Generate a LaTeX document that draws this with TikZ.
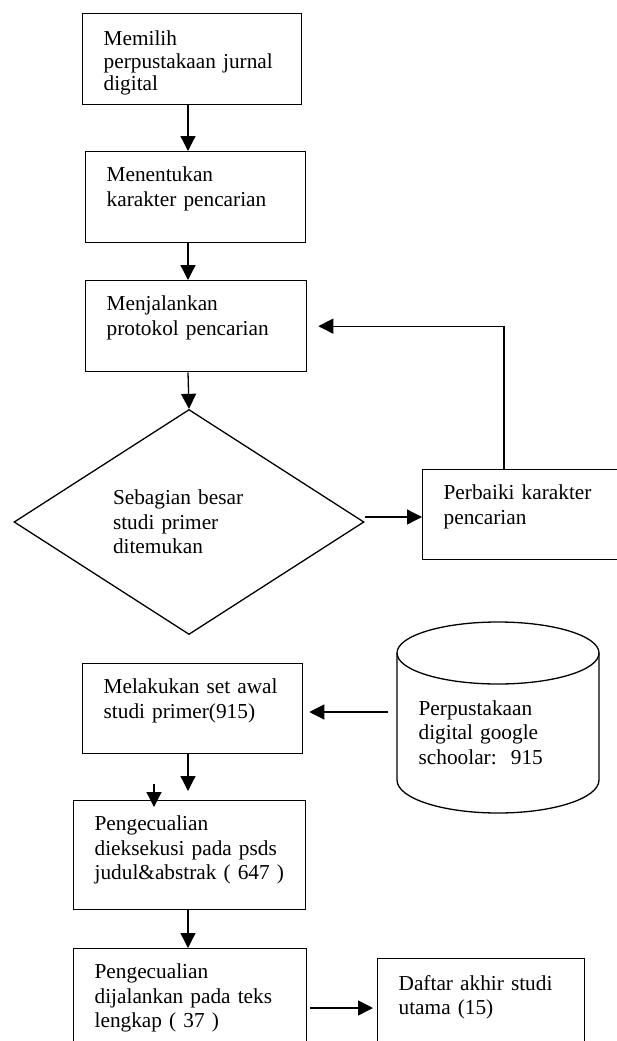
\documentclass[tikz,border=0pt]{standalone}
\usepackage{fontspec}
\setmainfont{Liberation Serif}
\usetikzlibrary{positioning,shapes.geometric,arrows.meta}

\tikzset{
  stepbox/.style={draw, line width=1.3pt, anchor=north west, inner sep=0pt,
    align=left, text height=30pt},
  choicebox/.style={draw, diamond, line width=1.3pt, aspect=1.556,
    minimum width=350pt, minimum height=225pt, align=left, text width=152pt,
    inner sep=4pt},
}
\newcommand{\boxpad}[1]{\leftskip=21pt\relax #1\par}

\begin{document}
\begin{tikzpicture}[x=1pt, y=-1pt, line width=1.3pt,
    >={Triangle[length=15pt,width=15pt]},
    font=\fontsize{21.3}{24.5}\selectfont]
  \useasboundingbox (0,0) rectangle (617,1041);
  %%%%% THE MAIN COLUMN
  \node[stepbox, text width=219pt, text height=32pt, text depth=59pt,
    font=\fontsize{21.3}{22.5}\selectfont] (pilih) at (82,13)
    {\boxpad{Memilih\\perpustakaan jurnal\\digital}};
  \node[stepbox, text width=220pt, text depth=61pt] (karakter) at (85,151)
    {\boxpad{Menentukan\\karakter pencarian}};
  \node[stepbox, text width=221pt, text depth=61pt] (jalankan) at (85,280)
    {\boxpad{Menjalankan\\protokol pencarian}};
  \node[choicebox] (cek) at (189,522) {Sebagian besar\\studi primer\\ditemukan};
  \node[stepbox, text width=210pt, text depth=60pt] (perbaiki) at (422,469)
    {\boxpad{Perbaiki karakter\\pencarian}};
  \node[stepbox, text width=220pt, text depth=60pt] (awal) at (82,663)
    {\boxpad{Melakukan set awal\\studi primer(915)}};
  \node[stepbox, text width=232pt, text depth=79pt] (saring) at (73,800)
    {\boxpad{Pengecualian\\dieksekusi pada psds\\judul\&abstrak ( 647 )}};
  \node[stepbox, text width=233pt, text depth=90pt] (teks) at (73,948)
    {\boxpad{Pengecualian\\dijalankan pada teks\\lengkap ( 37 )}};
  \node[stepbox, text width=207pt, text height=31.5pt, text depth=80pt] (akhir) at (377,958)
    {\boxpad{Daftar akhir studi\\utama (15)}};
  %%%%% THE DATABASE
  \draw (397,653) -- (397,780) arc[start angle=180, end angle=0, x radius=101, y radius=33] -- (599,653);
  \draw (498,653) ellipse [x radius=101, y radius=31];
  \node[align=left, anchor=base west, text width=180pt, inner sep=0pt] (db) at (418,715)
    {Perpustakaan\\digital google\\schoolar:\ \ 915};
  %%%% LINKS
  \coordinate (spine) at (188,0);
  \coordinate (loop) at (504,0);
  \coordinate (dbleft) at (397,712);
  \coordinate (stub) at (154,784);
  \coordinate (row) at (0,1008);
  \draw[->] (pilih.south -| spine) -- (karakter.north -| spine);
  \draw[->] (karakter.south -| spine) -- (jalankan.north -| spine);
  \draw[->] (jalankan.south -| spine) -- (cek.north);
  \draw[->] ([yshift=5pt]cek.east) -- ([yshift=5pt]cek.east -| perbaiki.west);
  \draw[->, shorten >=11pt] (perbaiki.north -| loop) |- (jalankan.east);
  \draw[->, shorten <=9pt, shorten >=6pt] (dbleft) -- (dbleft -| awal.east);
  \draw[->, shorten >=9pt] (awal.south -| spine) -- (saring.north -| spine);
  \draw[->, shorten >=-7pt] (stub) -- (stub |- saring.north);
  \draw[->] (saring.south -| spine) -- (teks.north -| spine);
  \draw[->, shorten <=3pt, shorten >=4pt] (teks.east |- row) -- (akhir.west |- row);
\end{tikzpicture}
\end{document}
